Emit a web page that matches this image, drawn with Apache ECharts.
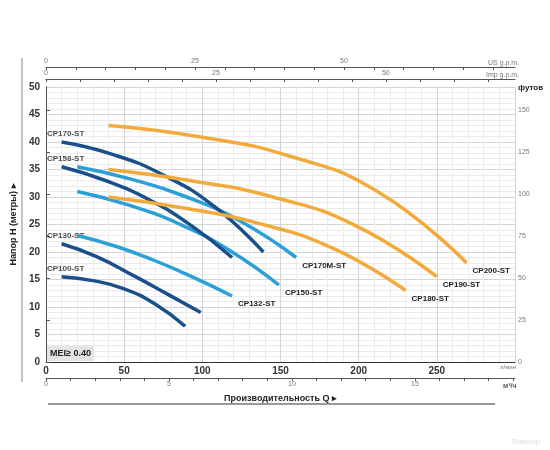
<!DOCTYPE html>
<html><head><meta charset="utf-8">
<script src="https://cdn.jsdelivr.net/npm/echarts@6/dist/echarts.min.js"></script>
<style>html,body{margin:0;background:#fff}#c{width:550px;height:450px}</style>
</head><body><div id="c"></div>
<script>
// flow in l/min, head in m
const cp100 = [[10, 15.5], [30, 14.8], [50, 13.3], [70, 10.5], [89, 6.5]];
const cp130 = [[10, 21.5], [32, 19.2], [56, 15.7], [78, 12.3], [99, 9]];
const cp132 = [[20, 23], [45, 21], [69, 18.5], [95, 15.3], [119, 12]];
const cp150 = [[20, 31], [52, 28.6], [86, 25], [118, 20.2], [149, 14]];
const cp158 = [[10, 35.5], [38, 33], [66, 29.5], [93, 24.8], [119, 19]];
const cp170m = [[20, 35.5], [55, 33.2], [90, 30], [125, 25.5], [160, 19]];
const cp170 = [[10, 40], [42, 37.8], [75, 34], [108, 28.2], [139, 20]];
const cp180 = [[40, 30], [88, 28], [136, 25.2], [184, 20.6], [230, 13]];
const cp190 = [[40, 35], [92, 33], [145, 30], [198, 24.8], [250, 15.5]];
const cp200 = [[40, 43], [97, 41], [155, 37.5], [212, 31], [269, 18]];

const dark = '#1b4f8c', light = '#2b9fd8', orange = '#f2aa3a';
const font = 'Liberation Sans Narrow, Liberation Sans, Arial';
const labelStyle = {fontSize: 8, fontWeight: 'bold', color: '#222', fontFamily: font};

function curve(name, data, color, startLabel) {
  return {
    name, type: 'line', data, smooth: 0.5, symbol: 'none',
    lineStyle: {color, width: 3.5},
    endLabel: Object.assign({show: !startLabel, formatter: name, offset: [-2, 8]}, labelStyle)
  };
}
function startLabel(name, data) {
  return {
    type: 'scatter', data: [data[0]], symbolSize: 0, silent: true,
    label: Object.assign({show: true, position: 'top', distance: 4, offset: [4, 0], formatter: name}, labelStyle)
  };
}

function minorAxis(min, max, offset, position, interval, labelEvery) {
  return {
    type: 'value', min, max, interval, position, offset,
    axisLine: {show: true, onZero: false, lineStyle: {color: '#555'}},
    axisTick: {show: true, inside: position === 'top', length: 3, lineStyle: {color: '#555'}},
    axisLabel: {fontSize: 7, color: '#777', margin: position === 'top' ? 2 : 3, showMaxLabel: false,
      formatter: v => (v <= 50 && Math.abs(v / labelEvery - Math.round(v / labelEvery)) < 1e-6 ? v : '')},
    splitLine: {show: false}
  };
}

const chart = echarts.init(document.getElementById('c'));
chart.setOption({
  animation: false,
  grid: {left: 46, right: 35, top: 87, bottom: 88},
  xAxis: [
    {type: 'value', min: 0, max: 300, interval: 50, position: 'bottom',
      axisLine: {lineStyle: {color: '#333'}}, axisTick: {show: false},
      axisLabel: {fontSize: 10, fontWeight: 'bold', color: '#333', margin: 4, fontFamily: font, showMaxLabel: false},
      splitLine: {lineStyle: {color: '#d4d4d4'}}, minorTick: {show: false, splitNumber: 5},
      minorSplitLine: {show: true, lineStyle: {color: '#ebebeb'}},
      name: 'Производительность Q ▸', nameLocation: 'middle', nameGap: 32,
      nameTextStyle: {fontSize: 9, fontWeight: 'bold', color: '#222', fontFamily: font}},
    minorAxis(0, 19.07, 16, 'bottom', 1, 5),
    minorAxis(0, 69, 8, 'top', 5, 25),
    minorAxis(0, 78.7, 20, 'top', 5, 25)
  ],
  yAxis: [
    {type: 'value', min: 0, max: 50, interval: 5,
      axisLine: {show: true, lineStyle: {color: '#333'}}, axisTick: {show: false},
      axisLabel: {fontSize: 10, fontWeight: 'bold', color: '#333', margin: 6, fontFamily: font},
      splitLine: {lineStyle: {color: '#d4d4d4'}}, minorTick: {show: false, splitNumber: 5},
      minorSplitLine: {show: true, lineStyle: {color: '#ebebeb'}},
      name: 'Напор H (метры) ▸', nameLocation: 'middle', nameGap: 26, nameRotate: 90,
      nameTextStyle: {fontSize: 9, fontWeight: 'bold', color: '#222', fontFamily: font}},
    {type: 'value', min: 0, max: 164.04, interval: 25, position: 'right',
      axisLine: {show: true, lineStyle: {color: '#555'}}, axisTick: {show: true, length: 4},
      axisLabel: {fontSize: 7, color: '#777', margin: 3, showMaxLabel: false}, splitLine: {show: false}}
  ],
  series: [
    curve('CP100-ST', cp100, dark, true), startLabel('CP100-ST', cp100),
    curve('CP130-ST', cp130, dark, true), startLabel('CP130-ST', cp130),
    curve('CP132-ST', cp132, light, false),
    curve('CP150-ST', cp150, light, false),
    curve('CP158-ST', cp158, dark, true), startLabel('CP158-ST', cp158),
    curve('CP170M-ST', cp170m, light, false),
    curve('CP170-ST', cp170, dark, true), startLabel('CP170-ST', cp170),
    curve('CP180-ST', cp180, orange, false),
    curve('CP190-ST', cp190, orange, false),
    curve('CP200-ST', cp200, orange, false)
  ],
  graphic: [
    {type: 'rect', left: 47, top: 346, z: 100, shape: {width: 46, height: 15}, style: {fill: '#e4e4e4'}},
    {type: 'text', left: 50, top: 349, z: 101, style: {text: 'MEI≥ 0.40', font: 'bold 9px ' + font, fill: '#222'}},
    {type: 'text', left: 500, top: 364, style: {text: 'л/мин', font: '6px sans-serif', fill: '#777'}},
    {type: 'text', left: 503, top: 383, style: {text: 'м³/ч', font: 'bold 7px sans-serif', fill: '#555'}},
    {type: 'text', left: 488, top: 60, style: {text: 'US g.p.m.', font: '7px sans-serif', fill: '#777'}},
    {type: 'text', left: 486, top: 72, style: {text: 'Imp g.p.m.', font: '7px sans-serif', fill: '#777'}},
    {type: 'text', left: 518, top: 84, style: {text: 'футов', font: 'bold 8px sans-serif', fill: '#222'}},
    {type: 'line', shape: {x1: 22, y1: 58, x2: 22, y2: 382}, style: {stroke: '#888', lineWidth: 1}},
    {type: 'line', shape: {x1: 48, y1: 404, x2: 495, y2: 404}, style: {stroke: '#999', lineWidth: 2}},
    {type: 'text', left: 512, top: 438, style: {text: 'Вимхор', font: '8px sans-serif', fill: '#ddd'}}
  ]
});
</script></body></html>
